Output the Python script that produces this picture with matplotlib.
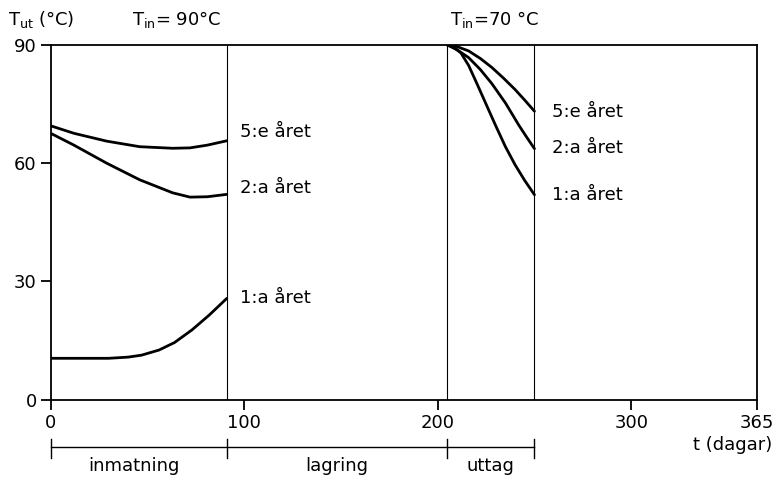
import matplotlib
matplotlib.use("Agg")
import matplotlib.pyplot as plt
import matplotlib.transforms as mtransforms

plt.rcParams['font.family'] = ['DejaVu Sans']
plt.rcParams['mathtext.fontset'] = 'dejavusans'

# ---- data (days, outlet temperature °C) ----
inm_days_5 = [0, 12, 29, 46, 63, 72, 81, 91]
inm_vals_5 = [69.5, 67.6, 65.6, 64.2, 63.8, 63.9, 64.6, 65.7]

inm_days_2 = [0, 12, 29, 46, 63, 72, 81, 91]
inm_vals_2 = [67.6, 64.6, 60.0, 55.8, 52.5, 51.4, 51.5, 52.1]

inm_days_1 = [0, 15, 30, 40, 47, 56, 64, 73, 82, 91]
inm_vals_1 = [10.5, 10.5, 10.5, 10.8, 11.3, 12.6, 14.5, 17.7, 21.5, 25.7]

utt_days_5 = [205, 210, 216, 222, 228, 234, 240, 245, 250]
utt_vals_5 = [90.0, 89.6, 88.5, 86.6, 84.3, 81.6, 78.7, 76.0, 73.2]

utt_days_2 = [205, 210, 216, 222, 228, 235, 242, 246, 250]
utt_vals_2 = [90.0, 88.8, 86.8, 83.8, 80.2, 75.3, 69.6, 66.6, 63.7]

utt_days_1 = [205, 208, 212, 216, 220, 225, 230, 235, 240, 245, 250]
utt_vals_1 = [90.0, 89.5, 88.0, 84.8, 80.5, 75.0, 69.5, 64.2, 59.6, 55.6, 52.0]

labels = ["5:e året", "2:a året", "1:a året"]
inm_label_y = [68.0, 53.7, 25.8]
utt_label_y = [73.0, 63.9, 52.0]

phase_bounds = [0, 91, 205, 250]
phase_names = ["inmatning", "lagring", "uttag"]
phase_label_x = [43, 148, 227]

xticks = [0, 100, 200, 300, 365]
yticks = [0, 30, 60, 90]

# ---- figure ----
fig = plt.figure(figsize=(7.76, 4.79), dpi=100)
ax = fig.add_axes([0.0653, 0.1656, 0.9755 - 0.0653, 0.906 - 0.1656])
ax.set_xlim(0, 365)
ax.set_ylim(0, 90)

lw = 2.0
for d, v in [(inm_days_5, inm_vals_5), (inm_days_2, inm_vals_2), (inm_days_1, inm_vals_1),
             (utt_days_5, utt_vals_5), (utt_days_2, utt_vals_2), (utt_days_1, utt_vals_1)]:
    ax.plot(d, v, color='black', lw=lw, solid_capstyle='round', solid_joinstyle='round')

for b in phase_bounds[1:]:
    ax.axvline(b, color='black', lw=0.8)

for s in ax.spines.values():
    s.set_linewidth(1.3)

ax.set_xticks(xticks)
ax.set_yticks(yticks)
ax.tick_params(direction='out', length=7, width=1.3, labelsize=13, pad=3)

fs = 13
for lab, y in zip(labels, inm_label_y):
    ax.text(98, y, lab, fontsize=fs, va='center', ha='left')
for lab, y in zip(labels, utt_label_y):
    ax.text(259, y, lab, fontsize=fs, va='center', ha='left')

# phase bar below the axis
trans = mtransforms.blended_transform_factory(ax.transData, ax.transAxes)
ax.plot([phase_bounds[0], phase_bounds[-1]], [-0.1325, -0.1325], color='black', lw=1.0,
        transform=trans, clip_on=False)
for b in phase_bounds:
    ax.plot([b, b], [-0.11, -0.165], color='black', lw=1.0, transform=trans, clip_on=False)
for name, x in zip(phase_names, phase_label_x):
    ax.text(x, -0.187, name, fontsize=fs, ha='center', va='center', transform=trans)

fig.text(772 / 776, 1 - 445 / 479, "t (dagar)", fontsize=fs, ha='right', va='center')

fig.text(8 / 776, 1 - 19 / 479, r"T$_{\mathrm{ut}}$ (°C)", fontsize=fs, ha='left', va='center')
fig.text(132 / 776, 1 - 19 / 479, r"T$_{\mathrm{in}}$= 90°C", fontsize=fs, ha='left', va='center')
fig.text(450 / 776, 1 - 19 / 479, r"T$_{\mathrm{in}}$=70 °C", fontsize=fs, ha='left', va='center')

fig.savefig("out.png", dpi=100, facecolor='white')
